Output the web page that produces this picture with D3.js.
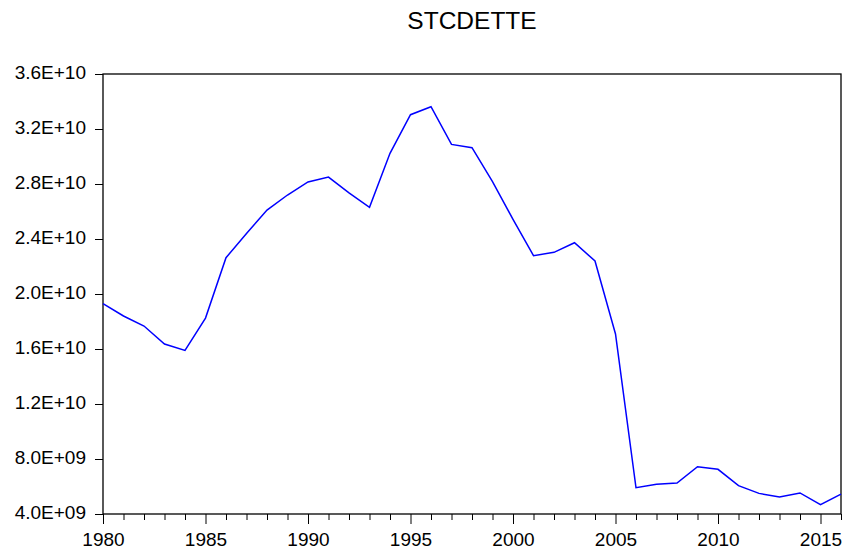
<!DOCTYPE html>
<html>
<head>
<meta charset="utf-8">
<script src="https://cdn.jsdelivr.net/npm/d3@7"></script>
<style>
	body { margin: 0; background: #fff; }
	svg text { font-family: "Liberation Sans", Arial, sans-serif; fill: #000; }
</style>
</head>
<body>
<div id="chart"></div>
<script>
/* STCDETTE line chart */

var years = d3.range(1980, 2017);
var stcdette = [
	19.3e9, 18.4e9, 17.67e9, 16.36e9, 15.9e9, 18.25e9, 22.64e9, 24.4e9, 26.1e9, 27.2e9,
	28.15e9, 28.5e9, 27.35e9, 26.3e9, 30.23e9, 33.04e9, 33.62e9, 30.88e9, 30.64e9, 28.17e9,
	25.43e9, 22.79e9, 23.03e9, 23.73e9, 22.4e9, 17.09e9, 5.91e9, 6.16e9, 6.25e9, 7.44e9,
	7.25e9, 6.06e9, 5.5e9, 5.24e9, 5.53e9, 4.68e9, 5.45e9
];
var yTicks = [4e9, 8e9, 12e9, 16e9, 20e9, 24e9, 28e9, 32e9, 36e9];
var xLabelYears = [1980, 1985, 1990, 1995, 2000, 2005, 2010, 2015];
var title = "STCDETTE";

var width = 842,
	height = 549,
	margin = { top: 74, right: 1, bottom: 35, left: 103 };

var svg = d3.select("#chart").append("svg")
	.attr("width", width)
	.attr("height", height);

var x = d3.scaleLinear().domain([1980, 2016]).range([margin.left, width - margin.right]);
var y = d3.scaleLinear().domain([4e9, 36e9]).range([height - margin.bottom, margin.top]);

function sci(v) {
	var s = d3.format(".1e")(v).toUpperCase(); // e.g. 4.0E+9
	return s.replace(/E([+-])(\d)$/, "E$10$2");
}

// y axis
var yAxis = svg.append("g")
	.attr("transform", "translate(" + margin.left + ",0)")
	.call(d3.axisLeft(y).tickValues(yTicks).tickSize(8).tickPadding(9).tickFormat(sci));
yAxis.select(".domain").remove();
yAxis.selectAll("text").attr("dy", "0.25em").style("font-size", "19px");

// x axis: minor ticks every year, major every 5
var xAxis = svg.append("g")
	.attr("transform", "translate(0," + (height - margin.bottom) + ")")
	.call(d3.axisBottom(x).tickValues(years)
		.tickSize(0)
		.tickFormat(function(d) { return xLabelYears.indexOf(d) >= 0 ? d : ""; }));
xAxis.select(".domain").remove();
xAxis.selectAll(".tick line")
	.attr("y2", function(d) { return d % 5 == 0 ? 10 : 6; });
xAxis.selectAll("text")
	.attr("y", 19)
	.style("font-size", "19px");

svg.selectAll(".tick line").attr("stroke", "#000");

// frame
svg.append("rect")
	.attr("x", margin.left)
	.attr("y", margin.top)
	.attr("width", x(2016) - margin.left)
	.attr("height", y(4e9) - margin.top)
	.attr("fill", "none")
	.attr("stroke", "#000")
	.attr("stroke-width", 1.3);

// line
var line = d3.line()
	.x(function(d, i) { return x(years[i]); })
	.y(function(d) { return y(d); });

svg.append("path")
	.datum(stcdette)
	.attr("d", line)
	.attr("fill", "none")
	.attr("stroke", "#0000ff")
	.attr("stroke-width", 1.5);

// title
svg.append("text")
	.attr("x", (margin.left + width - margin.right) / 2)
	.attr("y", 29)
	.attr("text-anchor", "middle")
	.style("font-size", "24.5px")
	.text(title);
</script>
</body>
</html>
